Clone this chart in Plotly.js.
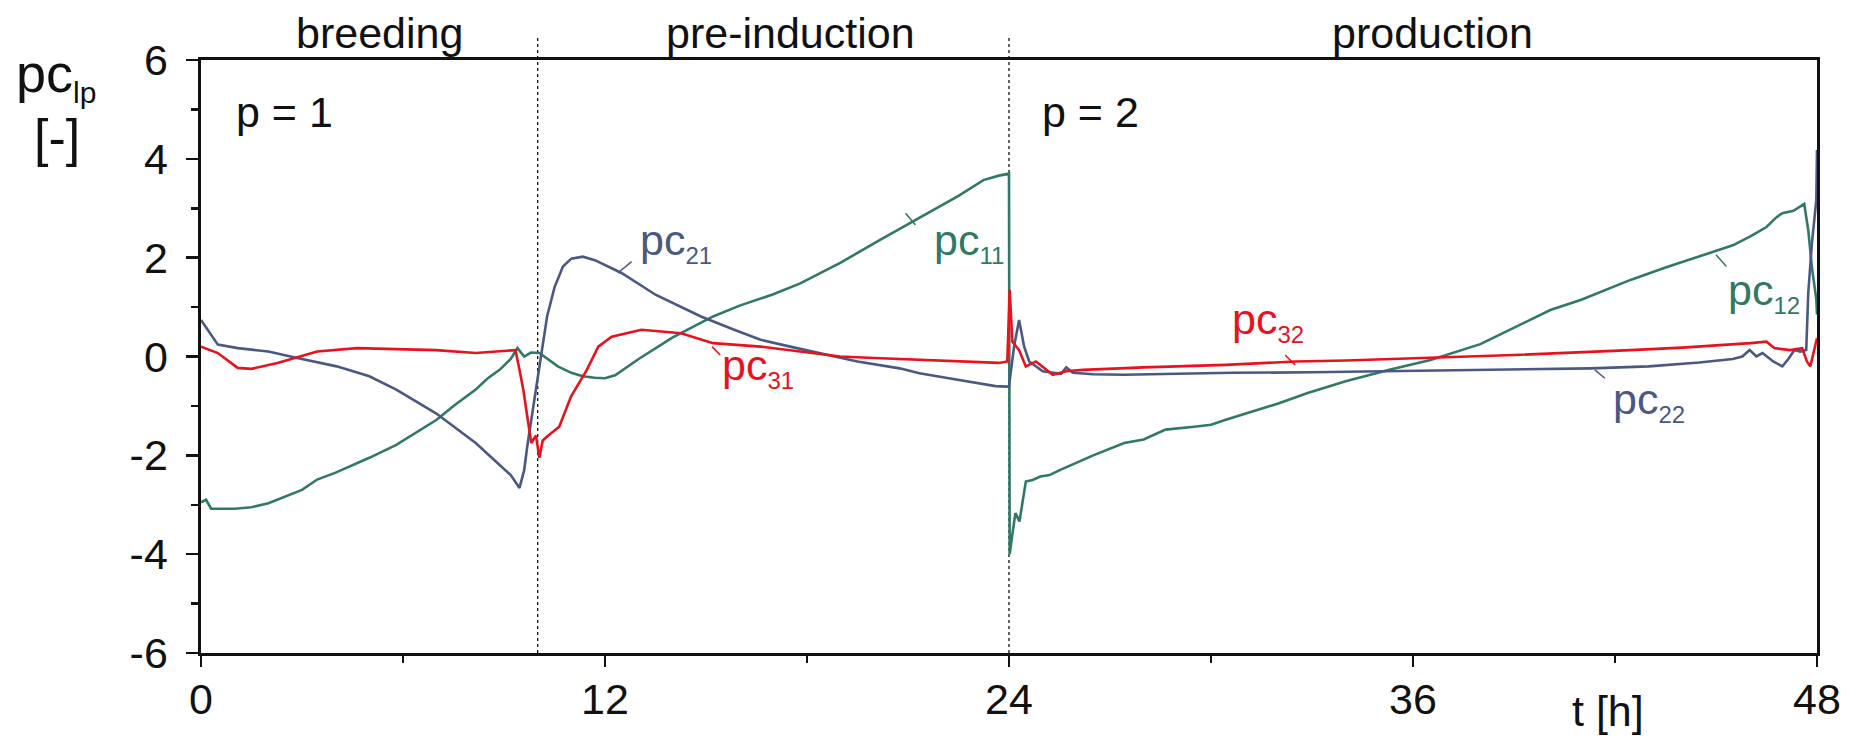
<!DOCTYPE html>
<html>
<head>
<meta charset="utf-8">
<script src="https://cdn.plot.ly/plotly-3.0.1.min.js"></script>
<style>html,body{margin:0;padding:0;background:#fff;}#chart{width:1858px;height:738px;}</style>
</head>
<body>
<div id="chart"></div>
<script>
// ---- data ----
const t_pc1 = [0, 0.15, 0.3, 1, 1.5, 2, 3, 3.45, 4, 5, 5.8, 6.5, 7, 7.5, 8.16, 8.5, 8.87, 9.2, 9.4, 9.6, 9.8, 10.05, 10.3, 10.6, 11, 11.34, 11.7, 12, 12.3, 12.61, 13, 14, 15.21, 16, 17, 17.8, 19, 20.17, 21, 21.94, 22.5, 23.24, 23.7, 24.0, 24.02, 24.1, 24.19, 24.31, 24.42, 24.5, 24.7, 24.93, 25.2, 25.54, 26.5, 27.42, 28.0, 28.65, 29.5, 30.0, 30.44, 31.05, 32, 32.87, 34, 35.3, 36.52, 38, 40.08, 41, 42.46, 43.5, 44.83, 45.5, 46.02, 46.5, 46.8, 46.97, 47.3, 47.62, 47.74, 47.85, 47.98, 48.0];
const pc1   = [-2.95, -2.9, -3.08, -3.08, -3.05, -2.97, -2.7, -2.49, -2.35, -2.05, -1.79, -1.5, -1.28, -1.0, -0.67, -0.45, -0.27, -0.05, 0.17, 0.0, 0.08, 0.07, -0.05, -0.2, -0.33, -0.40, -0.43, -0.44, -0.38, -0.23, -0.05, 0.38, 0.81, 1.03, 1.26, 1.48, 1.9, 2.36, 2.68, 3.03, 3.25, 3.57, 3.66, 3.70, -4.0, -3.6, -3.17, -3.34, -2.9, -2.53, -2.5, -2.43, -2.4, -2.29, -2.0, -1.75, -1.68, -1.48, -1.42, -1.38, -1.28, -1.15, -0.95, -0.74, -0.5, -0.27, -0.07, 0.25, 0.94, 1.15, 1.55, 1.8, 2.09, 2.25, 2.43, 2.62, 2.82, 2.90, 2.95, 3.09, 2.56, 1.8, 1.15, 0.85];

const t_pc2 = [0, 0.5, 1.09, 2, 2.86, 4.03, 5, 5.8, 6.98, 7.5, 8.16, 8.75, 9.2, 9.46, 9.6, 9.69, 9.85, 10.05, 10.28, 10.5, 10.75, 11.0, 11.34, 11.7, 12.0, 12.49, 13.5, 14.85, 15.8, 16.62, 17.5, 18.39, 19.5, 20.75, 21.34, 22.3, 23.11, 23.6, 23.94, 24.0, 24.15, 24.3, 24.45, 24.6, 25.0, 25.3, 25.55, 25.7, 25.9, 26.5, 27.42, 29, 30.65, 33, 35.3, 37, 39.24, 41.27, 43, 44.5, 45.5, 45.78, 46.0, 46.2, 46.38, 46.7, 46.97, 47.15, 47.33, 47.5, 47.68, 47.74, 47.85, 47.98, 48.0];
const pc2   = [0.74, 0.24, 0.17, 0.1, -0.03, -0.2, -0.4, -0.67, -1.15, -1.42, -1.75, -2.12, -2.4, -2.66, -2.3, -1.82, -1.1, -0.27, 0.81, 1.4, 1.82, 1.98, 2.02, 1.95, 1.85, 1.69, 1.25, 0.81, 0.55, 0.34, 0.2, 0.07, -0.1, -0.24, -0.34, -0.45, -0.54, -0.6, -0.61, -0.6, 0.2, 0.74, 0.2, -0.1, -0.3, -0.33, -0.35, -0.22, -0.33, -0.36, -0.37, -0.35, -0.33, -0.32, -0.3, -0.28, -0.27, -0.24, -0.2, -0.12, -0.05, 0.0, 0.13, 0.0, 0.07, -0.1, -0.2, -0.05, 0.13, 0.1, 0.13, 1.28, 2.3, 3.17, 4.18];

const t_pc3 = [0, 0.5, 1.09, 1.5, 2.27, 3.45, 4.63, 6, 6.98, 8.16, 9.0, 9.34, 9.46, 9.58, 9.69, 9.81, 9.95, 10.05, 10.15, 10.28, 10.64, 10.99, 11.46, 11.8, 12.2, 13.08, 14.26, 15.21, 16.62, 18, 18.98, 20, 21.34, 22.5, 23.7, 23.95, 24.02, 24.1, 24.3, 24.5, 24.8, 25.3, 25.7, 26.2, 28, 30.44, 32.5, 34, 36.52, 39, 42.46, 44, 46.02, 46.5, 46.73, 47.2, 47.56, 47.7, 47.8, 47.9, 48.0];
const pc3   = [0.2, 0.07, -0.23, -0.25, -0.13, 0.1, 0.17, 0.15, 0.13, 0.07, 0.12, 0.13, -0.27, -0.7, -1.21, -1.75, -1.6, -2.05, -1.7, -1.62, -1.42, -0.81, -0.27, 0.2, 0.4, 0.54, 0.47, 0.27, 0.2, 0.08, 0.0, -0.03, -0.07, -0.1, -0.13, -0.1, 1.35, 0.3, 0.13, -0.2, -0.1, -0.37, -0.3, -0.27, -0.22, -0.17, -0.1, -0.08, -0.03, 0.03, 0.13, 0.18, 0.27, 0.3, 0.17, 0.13, 0.17, -0.1, -0.2, 0.1, 0.37];

const xTicks = [0, 12, 24, 36, 48];
const xMinor = [6, 18, 30, 42];
const yTicks = [-6, -4, -2, 0, 2, 4, 6];
const yTickText = ["-6", "-4", "-2", "0", "2", "4", "6"];
const phaseBounds = [10, 24];
const phaseNames = ["breeding", "pre-induction", "production"];
const phaseX = [5.31, 17.51, 36.57];

// curve labels
const labelText = ["pc", "pc", "pc", "pc", "pc", "pc"];
const labelSub  = ["21", "11", "31", "32", "12", "22"];
const labelX    = [12.97, 21.70, 15.43, 30.56, 45.31, 41.87];
const labelY    = [2.30, 2.30, -0.23, 0.70, 1.29, -0.92];
const labelCol  = ["blue", "green", "red", "red", "green", "blue"];
const leadX0 = [12.38, 20.93, 15.18, 32.2, 45.0, 41.4];
const leadY0 = [1.69, 2.90, 0.20, 0.03, 2.06, -0.27];
const leadX1 = [12.79, 21.22, 15.42, 32.5, 45.31, 41.7];
const leadY1 = [1.92, 2.66, 0.03, -0.17, 1.82, -0.44];

const COL = {green: "#317866", blue: "#4a5883", red: "#e8121c"};
const FONT = "Liberation Sans, Arial, sans-serif";

const traces = [
  {x: t_pc1, y: pc1, color: COL.green},
  {x: t_pc2, y: pc2, color: COL.blue},
  {x: t_pc3, y: pc3, color: COL.red}
].map(s => ({x: s.x, y: s.y, type: "scatter", mode: "lines",
  line: {color: s.color, width: 2.6}, hoverinfo: "skip", showlegend: false, cliponaxis: false}));

const annotations = [];
const shapes = [];
phaseNames.forEach((n, i) => annotations.push({
  text: n, x: phaseX[i], xref: "x", y: 1.045, yref: "paper",
  xanchor: "center", yanchor: "middle", showarrow: false,
  font: {family: FONT, size: 43, color: "#111"}
}));
annotations.push({text: "p = 1", x: 0.97, xref: "x", y: 4.95, yref: "y", xanchor: "left", yanchor: "middle", showarrow: false, font: {family: FONT, size: 43, color: "#111"}});
annotations.push({text: "p = 2", x: 24.93, xref: "x", y: 4.95, yref: "y", xanchor: "left", yanchor: "middle", showarrow: false, font: {family: FONT, size: 43, color: "#111"}});
labelText.forEach((tx, i) => {
  annotations.push({
    text: tx + '<sub><span style="font-size:24px">' + labelSub[i] + '</span></sub>',
    x: labelX[i], xref: "x", y: labelY[i], yref: "y", xanchor: "left", yanchor: "middle",
    showarrow: false, font: {family: FONT, size: 43, color: COL[labelCol[i]]}
  });
  shapes.push({type: "line", xref: "x", yref: "y", x0: leadX0[i], y0: leadY0[i], x1: leadX1[i], y1: leadY1[i],
    line: {color: COL[labelCol[i]], width: 1.5}});
});
// y axis title
annotations.push({text: 'pc<sub><span style="font-size:30px">lp</span></sub>', x: -0.1156, xref: "paper", y: 0.973, yref: "paper",
  xanchor: "left", yanchor: "middle", showarrow: false, font: {family: FONT, size: 54, color: "#111"}});
annotations.push({text: "[-]", x: -0.0893, xref: "paper", y: 0.869, yref: "paper",
  xanchor: "center", yanchor: "middle", showarrow: false, font: {family: FONT, size: 52, color: "#111"}});
// x axis title
annotations.push({text: "t [h]", x: 41.8, xref: "x", y: -0.097, yref: "paper",
  xanchor: "center", yanchor: "middle", showarrow: false, font: {family: FONT, size: 43, color: "#111"}});

phaseBounds.forEach(b => shapes.push({type: "line", xref: "x", yref: "paper", x0: b, x1: b, y0: 0, y1: 1.0405,
  line: {color: "#111", width: 1.3, dash: "dot"}, layer: "below"}));

const layout = {
  width: 1858, height: 738,
  margin: {l: 201, r: 41, t: 60, b: 85, pad: 0},
  paper_bgcolor: "#fff", plot_bgcolor: "#fff",
  font: {family: FONT, color: "#111"},
  xaxis: {range: [0, 48], tickvals: xTicks, ticktext: xTicks.map(String),
    ticks: "outside", ticklen: 11, tickwidth: 2.5, tickcolor: "#111",
    minor: {tickvals: xMinor, ticks: "outside", ticklen: 7, tickwidth: 2.5, tickcolor: "#111", showgrid: false},
    showgrid: false, zeroline: false, showline: true, linewidth: 2.6, linecolor: "#111", mirror: true,
    tickfont: {family: FONT, size: 43, color: "#111"}, ticklabelstandoff: -4, fixedrange: true},
  yaxis: {range: [-6, 6], tickvals: yTicks, ticktext: yTickText,
    ticks: "outside", ticklen: 12, tickwidth: 2.5, tickcolor: "#111",
    minor: {dtick: 1, ticks: "outside", ticklen: 7, tickwidth: 2.5, tickcolor: "#111", showgrid: false},
    showgrid: false, zeroline: false, showline: true, linewidth: 2.6, linecolor: "#111", mirror: true,
    tickfont: {family: FONT, size: 43, color: "#111"}, ticklabelstandoff: 10, fixedrange: true},
  annotations: annotations,
  shapes: shapes
};
Plotly.newPlot("chart", traces, layout, {displayModeBar: false, staticPlot: true});
</script>
</body>
</html>
